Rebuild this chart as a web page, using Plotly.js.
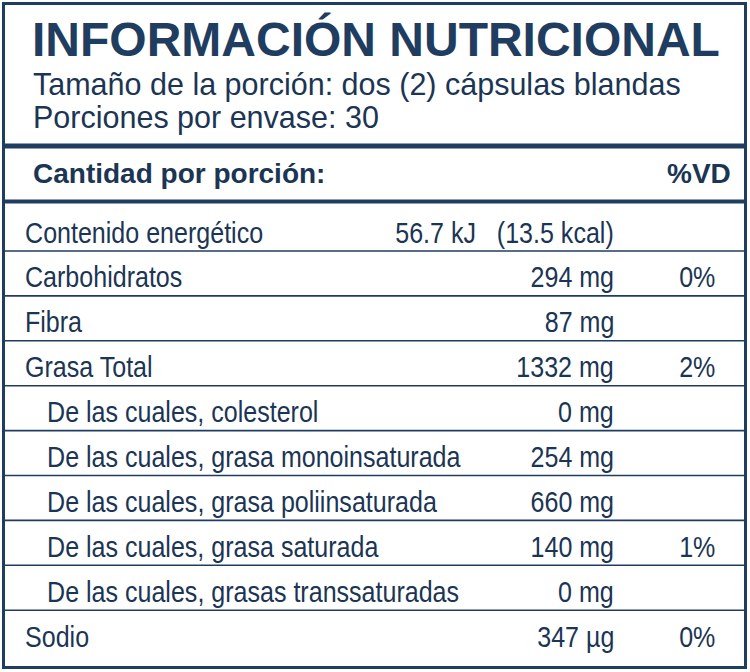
<!DOCTYPE html>
<html>
<head>
<meta charset="utf-8">
<script src="https://cdn.plot.ly/plotly-3.0.1.min.js"></script>
<style>html,body{margin:0;padding:0;background:#fff;}#chart{width:750px;height:672px;}</style>
</head>
<body>
<div id="chart"></div>
<script>
// ---- data ----
const titleText = 'INFORMACIÓN NUTRICIONAL';
const servingSize = 'Tamaño de la porción: dos (2) cápsulas blandas';
const servingsPerContainer = 'Porciones por envase: 30';
const headerAmount = 'Cantidad por porción:';
const headerDV = '%VD';
const nutrients = [
  'Contenido energético',
  'Carbohidratos',
  'Fibra',
  'Grasa Total',
  'De las cuales, colesterol',
  'De las cuales, grasa monoinsaturada',
  'De las cuales, grasa poliinsaturada',
  'De las cuales, grasa saturada',
  'De las cuales, grasas transsaturadas',
  'Sodio'
];
const amounts = ['56.7 kJ\u00a0\u00a0 (13.5 kcal)', '294 mg', '87 mg', '1332 mg', '0 mg', '254 mg', '660 mg', '140 mg', '0 mg', '347 \u00b5g'];
const dailyValues = ['', '0%', '', '2%', '', '', '', '1%', '', '0%'];
const indented = [false, false, false, false, true, true, true, true, true, false];

// ---- style / geometry ----
const NAVY = '#1f3d60';
const TEXT = '#1b3554';
const W = 750, H = 672;
const ROW0 = 232, STEP = 44.9;
const LEFT = 25, INDENT = 47, AMT_RIGHT = 614, DV_RIGHT = 715;
const BODY = 'Liberation Sans, Arial, Helvetica, sans-serif';
const CONDENSE = 0.835;   // body rows use a condensed look

const annotations = [];
const condensed = {};    // annotation index -> 'left' | 'right'
function addText(text, x, y, anchor, size, bold, narrow, color) {
  if (narrow) condensed[annotations.length] = anchor;
  annotations.push({
    xref: 'x', yref: 'y', x: x, y: y, text: bold ? '<b>' + text + '</b>' : text,
    showarrow: false, xanchor: anchor, yanchor: 'middle', borderpad: 0, borderwidth: 0,
    font: {family: BODY, size: size, color: color || TEXT}
  });
}
addText(titleText, 32, 39, 'left', 48, true, false, NAVY);
addText(servingSize, 33, 84, 'left', 30.5, false);
addText(servingsPerContainer, 33, 117, 'left', 30.5, false);
addText(headerAmount, 33, 173, 'left', 28, true);
addText(headerDV, 731, 173, 'right', 28, true);

const shapes = [];
shapes.push({type: 'rect', xref: 'x', yref: 'y', x0: 3.5, x1: 745.5, y0: 3.5, y1: 667.5, line: {color: NAVY, width: 3}});
shapes.push({type: 'line', xref: 'x', yref: 'y', x0: 3, x1: 746, y0: 146, y1: 146, line: {color: NAVY, width: 5}});
shapes.push({type: 'line', xref: 'x', yref: 'y', x0: 3, x1: 746, y0: 201.5, y1: 201.5, line: {color: NAVY, width: 4}});

nutrients.forEach(function (name, i) {
  const y = ROW0 + i * STEP;
  addText(name, indented[i] ? INDENT : LEFT, y, 'left', 30, false, true);
  addText(amounts[i], AMT_RIGHT, y, 'right', 30, false, true);
  if (dailyValues[i]) addText(dailyValues[i], DV_RIGHT, y, 'right', 30, false, true);
  if (i < nutrients.length - 1) {
    const ly = y + 19;
    shapes.push({type: 'line', xref: 'x', yref: 'y', x0: 3, x1: 746, y0: ly, y1: ly, line: {color: NAVY, width: 1.6}});
  }
});

const data = [{
  type: 'scatter', mode: 'markers', x: [0], y: [0],
  marker: {opacity: 0}, hoverinfo: 'skip', showlegend: false
}];

const layout = {
  width: W, height: H,
  margin: {l: 0, r: 0, t: 0, b: 0, pad: 0},
  paper_bgcolor: '#ffffff', plot_bgcolor: '#ffffff',
  xaxis: {range: [0, W], visible: false, fixedrange: true},
  yaxis: {range: [H, 0], visible: false, fixedrange: true},
  showlegend: false,
  shapes: shapes,
  annotations: annotations
};

function condenseText(gd) {
  gd.querySelectorAll('g.annotation').forEach(function (g) {
    const idx = g.getAttribute('data-index');
    const side = condensed[idx];
    if (!side) return;
    const t = g.querySelector('text');
    if (!t) return;
    const bb = t.getBBox();
    const ax = side === 'left' ? bb.x : bb.x + bb.width;
    t.setAttribute('transform', 'translate(' + (ax * (1 - CONDENSE)) + ',0) scale(' + CONDENSE + ',1)');
  });
}

Plotly.newPlot('chart', data, layout, {staticPlot: true, displayModeBar: false}).then(condenseText);
</script>
</body>
</html>
